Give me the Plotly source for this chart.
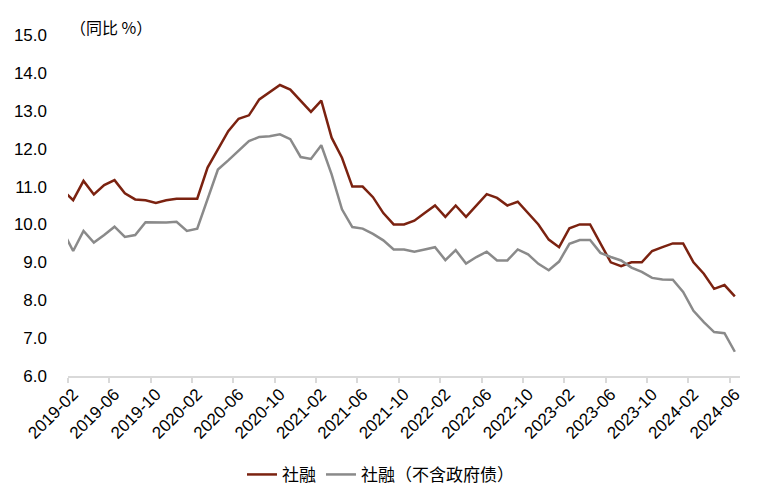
import plotly.graph_objects as go

months = [f"{y}-{m:02d}" for y in range(2019, 2025) for m in range(1, 13)]
months = months[:months.index("2024-06") + 1]  # 2019-01 .. 2024-06 (2019-01 lies just left of the visible axis)

tsf = [10.90,
       10.64, 11.15, 10.79, 11.04, 11.17, 10.82, 10.66, 10.64, 10.57, 10.64, 10.68,
       10.68, 10.68, 11.50, 11.98, 12.46, 12.79, 12.88, 13.30, 13.49, 13.68, 13.56, 13.27,
       12.97, 13.27, 12.29, 11.76, 11.00, 11.00, 10.72, 10.30, 10.00, 10.00, 10.10, 10.30,
       10.50, 10.20, 10.50, 10.20, 10.50, 10.80, 10.70, 10.50, 10.60, 10.30, 10.00, 9.60,
       9.40, 9.90, 10.00, 10.00, 9.50, 9.00, 8.90, 9.00, 9.00, 9.30, 9.40, 9.50,
       9.50, 9.00, 8.70, 8.30, 8.40, 8.10]

tsf_ex_gov = [9.83,
              9.30, 9.83, 9.52, 9.72, 9.94, 9.67, 9.72, 10.06, 10.05, 10.05, 10.07,
              9.83, 9.89, 10.70, 11.45, 11.69, 11.95, 12.20, 12.31, 12.33, 12.38, 12.25, 11.78,
              11.73, 12.09, 11.32, 10.40, 9.93, 9.89, 9.75, 9.58, 9.34, 9.34, 9.28, 9.34,
              9.40, 9.06, 9.32, 8.97, 9.14, 9.28, 9.05, 9.05, 9.34, 9.21, 8.96, 8.79,
              9.02, 9.49, 9.59, 9.59, 9.25, 9.14, 9.05, 8.86, 8.75, 8.59, 8.55, 8.54,
              8.22, 7.72, 7.42, 7.16, 7.13, 6.64]

y_ticks = [6, 7, 8, 9, 10, 11, 12, 13, 14, 15]
y_tick_text = [f"{v:.1f}" for v in y_ticks]

name_a = "社融"
name_b = "社融（不含政府债）"
y_title = "（同比 %）"

RED = "#7b2210"
GREY = "#8a8a8a"
FONT = "Liberation Sans, Arial, Noto Sans CJK SC"
CJK = "Noto Sans CJK SC, Liberation Sans"

fig = go.Figure()
fig.add_trace(go.Scatter(x=months, y=tsf, name=name_a, mode="lines",
                         line=dict(color=RED, width=2.5)))
fig.add_trace(go.Scatter(x=months, y=tsf_ex_gov, name=name_b, mode="lines",
                         line=dict(color=GREY, width=2.5)))

fig.update_layout(
    width=757, height=496,
    margin=dict(l=68, r=17, t=35, b=120, autoexpand=False),
    paper_bgcolor="white", plot_bgcolor="white",
    font=dict(family=FONT, size=17, color="black"),
    showlegend=True,
    legend=dict(orientation="h", x=0.465, xanchor="center", y=-0.29, yanchor="middle",
                font=dict(family=CJK, size=17, color="black"),
                itemwidth=30, tracegroupgap=0),
    annotations=[dict(text=y_title, xref="paper", yref="paper", x=0, y=1,
                      xanchor="left", yanchor="middle", xshift=0, yshift=8,
                      showarrow=False,
                      font=dict(family=CJK, size=16, color="black"))],
)

fig.update_xaxes(
    type="category", categoryorder="array", categoryarray=months,
    range=[0.5, len(months) - 0.5],
    tickmode="linear", tick0=1, dtick=4,
    tickson="boundaries",
    ticks="outside", ticklen=5, tickcolor="#d9d9d9", tickwidth=1.5,
    showline=True, linecolor="#d9d9d9", linewidth=1.5,
    showgrid=False, zeroline=False,
    tickangle=-45,
    tickfont=dict(family=FONT, size=17, color="black"),
)
fig.update_yaxes(
    range=[6, 15], tickmode="array", tickvals=y_ticks, ticktext=y_tick_text,
    showgrid=False, zeroline=False, showline=False, ticks="",
    ticklabelstandoff=20,
    tickfont=dict(family=FONT, size=17, color="black"),
)

fig.write_html("out.html")
